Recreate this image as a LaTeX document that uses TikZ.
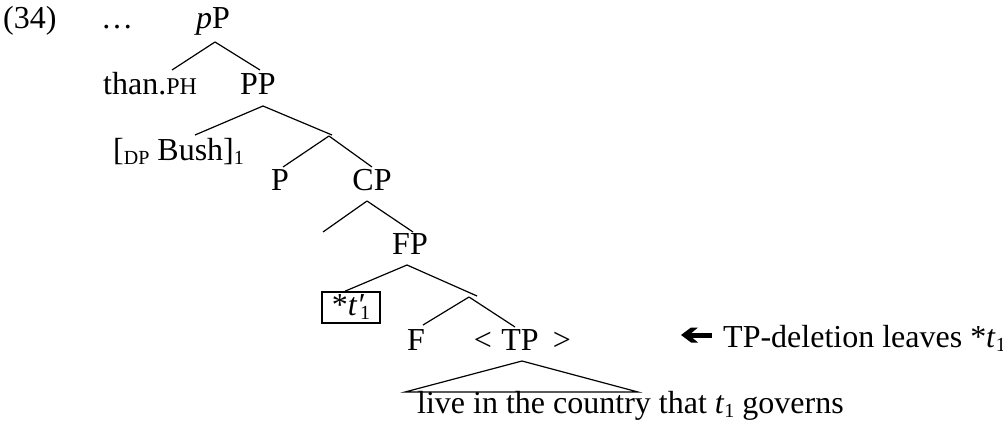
\documentclass[tikz,border=0pt]{standalone}
\usepackage{fontspec}
\setmainfont{Liberation Serif}
\usetikzlibrary{calc}
\newcommand{\mysub}[1]{\raisebox{-4pt}{\fontsize{20}{20}\selectfont #1}}
\begin{document}
\begin{tikzpicture}[x=1pt,y=-1pt,
  every node/.style={inner sep=0pt, font=\fontsize{32}{38}\selectfont},
  br/.style={line width=1.2pt}]
\useasboundingbox (0,0) rectangle (1003,420);
\node[anchor=base west] (num) at (3,29) {(34)};
\node[anchor=base west] (dots) at (101,29) {…};
\node[anchor=base] (pP) at (213,29) {\textit{p}P};
\node[anchor=base west] (than) at (103,94) {than.{\fontsize{24}{24}\selectfont PH}};
\node[anchor=base] (PP) at (258,94) {PP};
\node[anchor=base west] (bush) at (113,160) {[\mysub{DP} Bush]\mysub{1}};
\coordinate (x1) at (329,136);
\node[anchor=base] (P) at (280,190) {P};
\node[anchor=base] (CP) at (372,190) {CP};
\coordinate (cpl) at (323,232);
\node[anchor=base] (FP) at (410,254) {FP};
\node[draw, line width=1.6pt, minimum width=58pt, minimum height=31pt] (tr) at (351,307.5) {*\textit{t\rlap{′}}\mysub{\,1}};
\coordinate (x2) at (469,297);
\node[anchor=base] (F) at (416,350) {F};
\node[anchor=base] (TP) at (520,350) {TP};
\node[anchor=base] (lt) at (483,350) {<};
\node[anchor=base] (gt) at (562,350) {>};
\node[anchor=base west] (live) at (417,413) {live in the country that \textit{t}\mysub{1} governs};
\node[anchor=base west] (del) at (723,347) {TP-deletion leaves *\textit{t}\mysub{1}};
% branches
\draw[br] ($(pP.base)+(2,13)$) -- ($(than.base west)+(69,-24)$);
\draw[br] ($(pP.base)+(2,13)$) -- ($(PP.base)+(2,-24)$);
\draw[br] ($(PP.base)+(5,12)$) -- ($(bush.base west)+(82,-25)$);
\draw[br] ($(PP.base)+(5,12)$) -- ($(x1)+(3,-1)$);
\draw[br] (x1) -- ($(P.base)+(3,-23)$);
\draw[br] (x1) -- ($(CP.base)+(0,-23)$);
\draw[br] ($(CP.base)+(-5,11)$) -- (cpl);
\draw[br] ($(CP.base)+(-5,11)$) -- ($(FP.base)+(3,-22)$);
\draw[br] ($(FP.base)+(-3,11)$) -- ($(tr.north)+(-6,0)$);
\draw[br] ($(FP.base)+(-3,11)$) -- ($(x2)+(8,-1)$);
\draw[br] (x2) -- ($(F.base)+(7,-25)$);
\draw[br] (x2) -- ($(TP.base)+(-5,-23)$);
\draw[br] ($(TP.base)+(2,11)$) -- ($(live.base west)+(-12,-21)$) -- ($(live.base west)+(221,-21)$) -- cycle;
% arrow
\fill ($(del.base west)+(-42,-12)$) -- ++(10,-7.5) -- ++(7,0) -- ++(-9,7.5) -- ++(9,7.5) -- ++(-7,0) -- cycle;
\fill ($(del.base west)+(-35,-14.5)$) rectangle ($(del.base west)+(-11,-9.5)$);
\end{tikzpicture}
\end{document}
